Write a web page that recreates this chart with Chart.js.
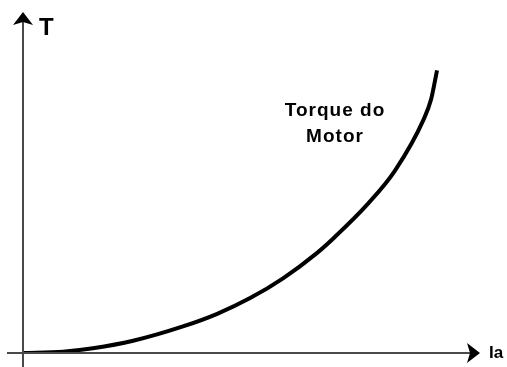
<!DOCTYPE html>
<html>
<head>
<meta charset="utf-8">
<script src="https://cdn.jsdelivr.net/npm/chart.js@4/dist/chart.umd.min.js"></script>
<style>
  html, body { margin:0; padding:0; background:#fff; }
  #wrap { width:507px; height:367px; }
</style>
</head>
<body>
<div id="wrap"><canvas id="torque"></canvas></div>
<script>
// motor torque vs armature current (arbitrary units, 0..100 on both axes)
const currentIa = [0, 8.75, 15.3, 24.1, 35.0, 42.5, 49.7, 56.9, 64.3, 68.3, 75.5, 81.4, 87.7, 89.3, 90.6];
const torqueT   = [0, 0.4, 1.4, 3.6, 7.8, 11.5, 16.1, 21.9, 29.3, 34.1, 43.8, 53.5, 68.6, 74.4, 82.9];
const axisLabels = { x: "Ia", y: "T" };
const curveLabel = ["Torque do", "Motor"];

const points = currentIa.map((x, i) => ({ x, y: torqueT[i] }));

// axes with arrowheads plus the text labels, drawn from the scale positions
const axesArrows = {
  id: "axesArrows",
  afterDatasetsDraw(chart) {
    const { ctx, scales } = chart;
    const x0 = scales.x.getPixelForValue(0);
    const y0 = scales.y.getPixelForValue(0);
    const xEnd = scales.x.getPixelForValue(100);
    const yEnd = scales.y.getPixelForValue(100);
    ctx.save();
    ctx.strokeStyle = "#4a4a4a";
    ctx.lineWidth = 2;
    ctx.beginPath();
    ctx.moveTo(x0, chart.height);
    ctx.lineTo(x0, yEnd + 8);
    ctx.moveTo(7, y0);
    ctx.lineTo(xEnd - 8, y0);
    ctx.stroke();

    ctx.fillStyle = "#000";
    // up arrow
    ctx.beginPath();
    ctx.moveTo(x0, yEnd);
    ctx.lineTo(x0 + 10, yEnd + 13);
    ctx.lineTo(x0, yEnd + 10);
    ctx.lineTo(x0 - 10, yEnd + 13);
    ctx.closePath();
    ctx.fill();
    // right arrow
    ctx.beginPath();
    ctx.moveTo(xEnd, y0);
    ctx.lineTo(xEnd - 13, y0 + 10);
    ctx.lineTo(xEnd - 10, y0);
    ctx.lineTo(xEnd - 13, y0 - 10);
    ctx.closePath();
    ctx.fill();

    ctx.font = "bold 24px 'Liberation Sans', Arial, sans-serif";
    ctx.textBaseline = "alphabetic";
    ctx.textAlign = "left";
    ctx.fillText(axisLabels.y, x0 + 16, yEnd + 23);
    ctx.font = "bold 17px 'Liberation Sans', Arial, sans-serif";
    ctx.fillText(axisLabels.x, xEnd + 9, y0 + 5);

    ctx.font = "bold 19px 'Liberation Sans', Arial, sans-serif";
    ctx.textAlign = "center";
    if ("letterSpacing" in ctx) ctx.letterSpacing = "1px";
    ctx.fillText(curveLabel[0], 335, 116);
    ctx.fillText(curveLabel[1], 335, 142);
    ctx.restore();
  }
};

new Chart(document.getElementById("torque"), {
  type: "scatter",
  data: {
    datasets: [{
      data: points,
      showLine: true,
      borderColor: "#000",
      borderWidth: 4,
      pointRadius: 0,
      cubicInterpolationMode: "monotone",
      fill: false
    }]
  },
  options: {
    responsive: true,
    maintainAspectRatio: false,
    animation: false,
    layout: { padding: { left: 23, right: 27, top: 12, bottom: 14 } },
    plugins: { legend: { display: false }, tooltip: { enabled: false } },
    scales: {
      x: { type: "linear", min: 0, max: 100, display: false },
      y: { type: "linear", min: 0, max: 100, display: false }
    }
  },
  plugins: [axesArrows]
});
</script>
</body>
</html>
